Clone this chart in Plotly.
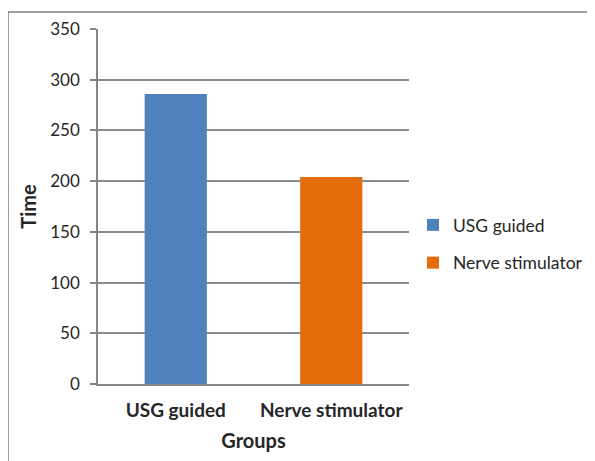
import plotly.graph_objects as go

categories = ["USG guided", "Nerve stimulator"]
times = [286, 204]
colors = ["#4F81BD", "#E46C0A"]
y_ticks = [0, 50, 100, 150, 200, 250, 300, 350]

FONT = "Lato"
OFF = 8  # page body margin
W, H = 595 - OFF, 461 - OFF
PL, PR, PT, PB = 98 - OFF, 409 - OFF, 29 - OFF, 384 - OFF

fig = go.Figure()
for i, (c, v) in enumerate(zip(categories, times)):
    fig.add_trace(go.Bar(
        x=[c], y=[v], name=c, marker=dict(color=colors[i], line=dict(width=0)),
        width=0.4, legendgroup=c,
    ))

pw, ph = PR - PL, PB - PT
fig.update_layout(
    width=W, height=H,
    margin=dict(l=PL, r=W - PR, t=PT, b=H - PB, autoexpand=False),
    paper_bgcolor="white", plot_bgcolor="white",
    barmode="relative",
    font=dict(family=FONT, size=17, color="#262626"),
    showlegend=True,
    legend=dict(x=(413 - OFF - PL) / pw, y=(PB - (244 - OFF)) / ph, xanchor="left", yanchor="middle",
                font=dict(size=17.5, color="#262626"), tracegroupgap=12,
                traceorder="grouped", bgcolor="rgba(0,0,0,0)"),
    xaxis=dict(
        showline=True, linecolor="#868686", linewidth=1.5,
        ticks="", showgrid=False, ticklabelstandoff=8,
        tickfont=dict(size=19, color="#262626", family=FONT, weight="bold"),
        title=dict(text="<b>Groups</b>", font=dict(size=20, color="#262626"), standoff=14),
    ),
    yaxis=dict(
        range=[0, 350], tickvals=y_ticks, showline=True, linecolor="#868686",
        linewidth=1.5, ticks="outside", ticklen=6, tickcolor="#868686", tickwidth=1.5,
        showgrid=True, gridcolor="#8c8c8c", gridwidth=1.5, zeroline=False,
        ticklabelstandoff=7,
        tickfont=dict(size=17, color="#262626"),
        title=dict(text="<b>Time</b>", font=dict(size=20, color="#262626"), standoff=8),
    ),
    shapes=[dict(type="rect", xref="paper", yref="paper",
                 x0=(8 - OFF - PL) / pw, x1=(594 - OFF - PL) / pw,
                 y0=(PB - (470 - OFF)) / ph, y1=(PB - (12 - OFF)) / ph,
                 line=dict(color="#404040", width=1), layer="below")],
)
fig.write_html("out.html")
